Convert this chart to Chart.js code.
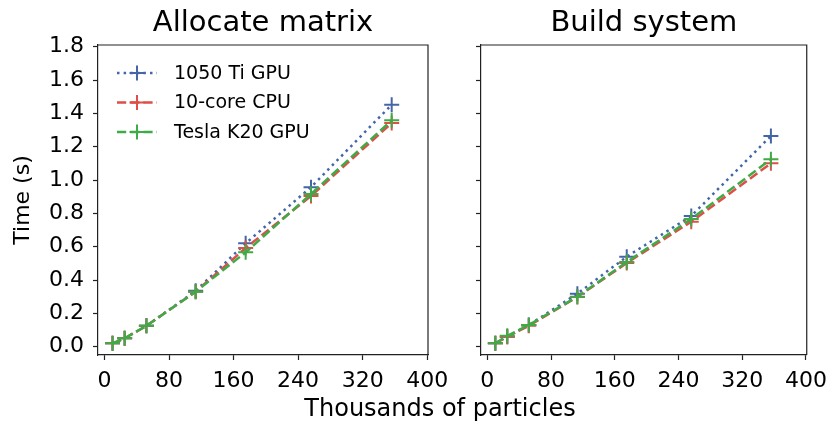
<!DOCTYPE html>
<html>
<head>
<meta charset="utf-8">
<script src="https://cdn.jsdelivr.net/npm/chart.js@4.4.0/dist/chart.umd.min.js"></script>
<style>
  body { margin: 0; background: #fff; }
  #wrap { position: relative; width: 835px; height: 422px; overflow: hidden; }
  canvas { position: absolute; top: 0; }
  #leftChart { left: 0; }
  #rightChart { left: 440px; }
  #xlabel {
    position: absolute; left: 0; width: 880px; top: 394px;
    text-align: center; font: 24px "DejaVu Sans"; color: #000;
  }
</style>
</head>
<body>
<div id="wrap">
  <canvas id="leftChart" width="460" height="422"></canvas>
  <canvas id="rightChart" width="395" height="422"></canvas>
  <div id="xlabel">Thousands of particles</div>
</div>
<script>
// particle counts (thousands)
var particles = [10, 25, 52, 113, 175, 256, 356];

var seriesNames = ["1050 Ti GPU", "10-core CPU", "Tesla K20 GPU"];

// allocate matrix timings (s)
var allocTi = [0.02, 0.05, 0.125, 0.335, 0.62, 0.957, 1.452];
var allocCpu = [0.02, 0.05, 0.125, 0.33, 0.592, 0.904, 1.342];
var allocK20 = [0.02, 0.05, 0.125, 0.33, 0.566, 0.916, 1.358];

// build system timings (s)
var buildTi = [0.02, 0.06, 0.13, 0.318, 0.54, 0.784, 1.264];
var buildCpu = [0.02, 0.06, 0.125, 0.298, 0.502, 0.75, 1.10];
var buildK20 = [0.02, 0.065, 0.13, 0.3, 0.508, 0.766, 1.124];

var yTicks = [0.0, 0.2, 0.4, 0.6, 0.8, 1.0, 1.2, 1.4, 1.6, 1.8];
var xTicks = [0, 80, 160, 240, 320, 400];

var colors = ["#4466a8", "#dd4f47", "#3fab47"];
var dashes = [[2.5, 4.1], [9.2, 4], [9.2, 4]];

Chart.defaults.font.family = "DejaVu Sans";
Chart.defaults.color = "#000";

function makeDatasets(vals) {
  return vals.map(function (v, i) {
    return {
      label: seriesNames[i],
      data: particles.map(function (x, j) { return {x: x, y: v[j]}; }),
      borderColor: colors[i],
      backgroundColor: colors[i],
      borderWidth: 2.5,
      borderDash: dashes[i],
      pointStyle: "cross",
      pointRadius: 7.5,
      pointBorderWidth: 2,
      pointHoverRadius: 7.5,
      tension: 0,
      order: 3 - i
    };
  });
}

// frame, panel title and in-plot legend
var panelDeco = {
  id: "panelDeco",
  afterDraw: function (chart, args, opts) {
    var ctx = chart.ctx, a = chart.chartArea;
    ctx.save();
    ctx.strokeStyle = "#222";
    ctx.lineWidth = 1.2;
    ctx.beginPath();
    ctx.moveTo(a.left, a.top);
    ctx.lineTo(a.right, a.top);
    ctx.lineTo(a.right, a.bottom);
    ctx.stroke();

    ctx.fillStyle = "#000";
    ctx.font = "29px 'DejaVu Sans'";
    ctx.textAlign = "center";
    ctx.textBaseline = "middle";
    ctx.fillText(opts.title, (a.left + a.right) / 2, 23);

    if (opts.legend) {
      chart.data.datasets.forEach(function (ds, i) {
        var y = a.top + 28 + i * 29.5;
        var x0 = a.left + 19;
        ctx.strokeStyle = ds.borderColor;
        ctx.lineWidth = 2.5;
        ctx.setLineDash(ds.borderDash);
        ctx.beginPath();
        ctx.moveTo(x0, y);
        ctx.lineTo(x0 + 40, y);
        ctx.stroke();
        ctx.setLineDash([]);
        ctx.lineWidth = 2;
        ctx.beginPath();
        ctx.moveTo(x0 + 20, y - 7.5);
        ctx.lineTo(x0 + 20, y + 7.5);
        ctx.moveTo(x0 + 12.5, y);
        ctx.lineTo(x0 + 27.5, y);
        ctx.stroke();
        ctx.fillStyle = "#000";
        ctx.font = "19px 'DejaVu Sans'";
        ctx.textAlign = "left";
        ctx.fillText(ds.label, x0 + 57, y + 1);
      });
    }
    ctx.restore();
  }
};

function makeOptions(title, showY, yWidth, legend, rightPad) {
  return {
    responsive: false,
    animation: false,
    layout: {padding: {top: 45, right: rightPad, bottom: 0, left: 0}},
    plugins: {
      legend: {display: false},
      tooltip: {enabled: false},
      panelDeco: {title: title, legend: legend}
    },
    scales: {
      x: {
        type: "linear",
        min: -8,
        max: 401,
        afterBuildTicks: function (s) { s.ticks = xTicks.map(function (v) { return {value: v}; }); },
        afterFit: function (s) { s.height = 67; },
        ticks: {font: {size: 22}, padding: 8, maxRotation: 0},
        grid: {drawOnChartArea: false, drawTicks: true, tickLength: 5, tickColor: "#222", tickWidth: 1.2},
        border: {display: true, color: "#222", width: 1.2}
      },
      y: {
        type: "linear",
        min: -0.05,
        max: 1.81,
        afterBuildTicks: function (s) { s.ticks = yTicks.map(function (v) { return {value: v}; }); },
        afterFit: function (s) { s.width = yWidth; },
        ticks: {
          display: showY,
          font: {size: 22},
          padding: 9,
          callback: function (v) { return v.toFixed(1); }
        },
        title: {display: showY, text: "Time (s)", font: {size: 22}, padding: {top: 10, bottom: 0}},
        grid: {drawOnChartArea: false, drawTicks: true, tickLength: 5, tickColor: "#222", tickWidth: 1.2},
        border: {display: true, color: "#222", width: 1.2}
      }
    }
  };
}

new Chart(document.getElementById("leftChart"), {
  type: "line",
  data: {datasets: makeDatasets([allocTi, allocCpu, allocK20])},
  options: makeOptions("Allocate matrix", true, 98, true, 32),
  plugins: [panelDeco]
});

new Chart(document.getElementById("rightChart"), {
  type: "line",
  data: {datasets: makeDatasets([buildTi, buildCpu, buildK20])},
  options: makeOptions("Build system", false, 41, false, 26),
  plugins: [panelDeco]
});
</script>
</body>
</html>
